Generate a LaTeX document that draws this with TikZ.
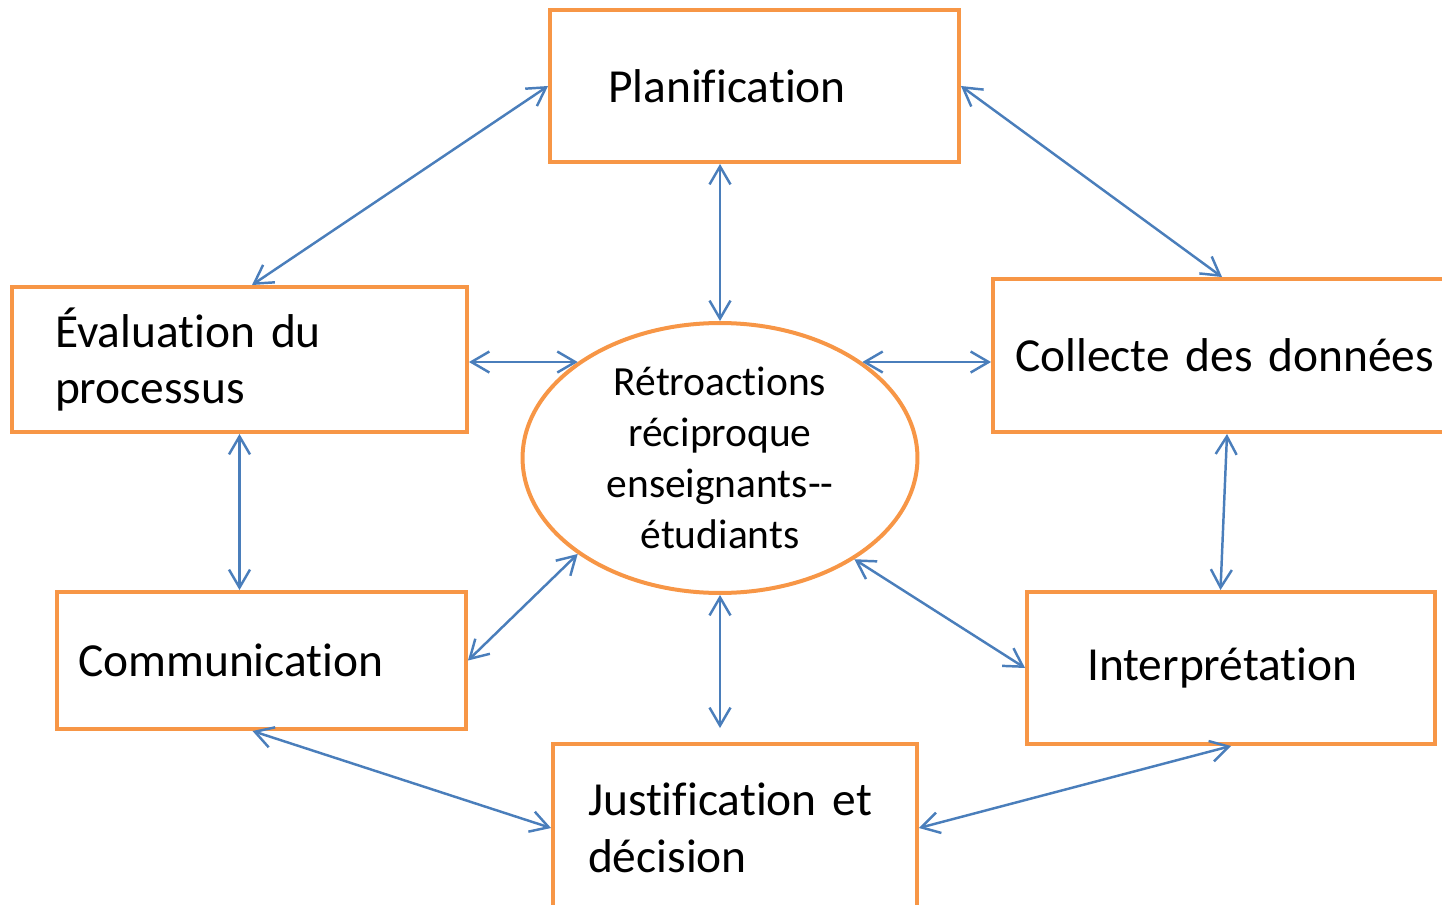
\documentclass[tikz,border=0pt]{standalone}
\usepackage{fontspec}
\setmainfont{Carlito}[Ligatures={TeX,NoCommon}]
\usepackage{tikz}
\usetikzlibrary{calc,shapes.geometric,arrows.meta}
\definecolor{orangeboite}{HTML}{F79646}
\definecolor{bleulien}{HTML}{4A7EBB}
\tikzset{
	boite/.style={draw=orangeboite, line width=0.08cm, rectangle, align=left, inner ysep=0pt, font=\fontsize{27}{32.4}\selectfont},
	bulle/.style={draw=orangeboite, line width=0.08cm, ellipse, align=center, inner sep=0pt, minimum width=7.9cm, minimum height=5.4cm, font=\fontsize{23.6}{28.9}\selectfont},
	lien/.style={draw=bleulien, line width=1.4pt, {Straight Barb[length=0.36cm,width=0.42cm]}-{Straight Barb[length=0.36cm,width=0.42cm]}}
}

\begin{document}
\begin{tikzpicture}[x=0.02cm, y=-0.02cm]
			%%%%% START %%%%%
			
			\useasboundingbox (0, 0) rectangle (1442, 905);
			\clip (0, 0) rectangle (1442, 905);
			
			\node[boite, minimum width=8.18cm, minimum height=3.04cm, text width=5.86cm, inner xsep=1.16cm] (plan) at (754.5, 86) {Planification};
			\node[boite, minimum width=9.1cm, minimum height=2.9cm, text width=7.38cm, inner xsep=0.86cm] (eval) at (239.5, 359.5) {Évaluation du\\processus};
			\node[boite, minimum width=9.6cm, minimum height=3.06cm, text width=8.72cm, inner xsep=0.44cm] (coll) at (1233, 355.5) {Collecte des données};
			\node[boite, minimum width=8.18cm, minimum height=2.74cm, text width=7.34cm, inner xsep=0.42cm] (comm) at (261.5, 660.5) {Communication};
			\node[boite, minimum width=8.16cm, minimum height=3.04cm, text width=5.76cm, inner xsep=1.2cm] (interp) at (1231, 668) {Interprétation};
			\node[boite, minimum width=7.28cm, minimum height=3.36cm, text width=5.88cm, inner xsep=0.7cm] (just) at (735, 828) {Justification et\\décision};
			
			\node[bulle] (fb) at (720, 458) {Rétroactions\\réciproque\\enseignants-\kern0pt-\\étudiants};
			
			\coordinate (jhaut) at ($(fb.south |- just.north)+(0, -14)$);
			
			\draw[lien] (plan.west) -- ($(eval.north)+(12.5, 0)$);
			\draw[lien] (plan.east) -- ($(coll.north)+(-11, 0)$);
			\draw[lien] (plan.south -| fb.north) -- (fb.north);
			
			\draw[lien] (eval.east |- fb.146) -- (fb.146);
			\draw[lien] (fb.34) -- (fb.34 -| coll.west);
			
			\draw[lien] (eval.south) -- (eval.south |- comm.north);
			\draw[lien] ($(coll.south)+(-6, 0)$) -- ($(interp.north)+(-10.5, 0)$);
			
			\draw[lien] (comm.east) -- (fb.214);
			\draw[lien] (interp.west) -- (fb.323);
			\draw[lien] (fb.south) -- (jhaut);
			
			\draw[lien] ($(comm.south)+(-9, 0)$) -- (just.west);
			\draw[lien] (interp.south) -- (just.east);
			
			%%%%% END %%%%%
\end{tikzpicture}
\end{document}
